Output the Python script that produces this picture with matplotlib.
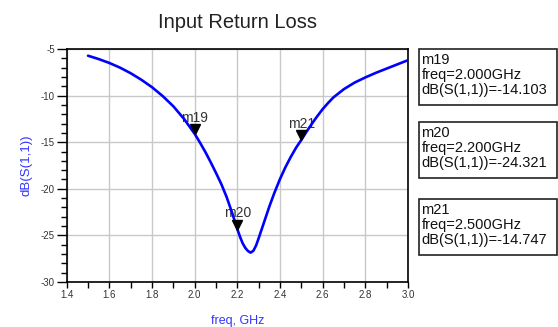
import matplotlib
matplotlib.use("Agg")
import matplotlib.pyplot as plt
from matplotlib.patches import Rectangle
from matplotlib.transforms import offset_copy

plt.rcParams['font.family'] = ['Liberation Sans', 'DejaVu Sans']

# S11 sweep (GHz, dB)
freq_ghz = [1.50, 1.55, 1.60, 1.65, 1.70, 1.75, 1.80, 1.85, 1.90, 1.95,
            2.00, 2.025, 2.05, 2.075, 2.10, 2.125, 2.15, 2.175, 2.20, 2.2125,
            2.225, 2.2375, 2.25, 2.262, 2.275, 2.2875, 2.30, 2.3125, 2.325, 2.35,
            2.375, 2.40, 2.425, 2.45, 2.475, 2.50, 2.525, 2.55, 2.575, 2.60,
            2.625, 2.65, 2.70, 2.75, 2.80, 2.85, 2.90, 2.95, 3.00]
s11_db = [-5.72, -6.08, -6.5, -7.0, -7.6, -8.3, -9.1, -10.05, -11.15, -12.5,
          -14.103, -15.05, -16.05, -17.15, -18.3, -19.5, -20.9, -22.55, -24.321, -25.15,
          -25.85, -26.35, -26.68, -26.85, -26.65, -26.1, -25.3, -24.45, -23.6, -21.9,
          -20.35, -18.95, -17.7, -16.6, -15.6, -14.747, -13.85, -13.0, -12.2, -11.45,
          -10.8, -10.2, -9.3, -8.6, -8.05, -7.55, -7.1, -6.65, -6.2]

# Markers
marker_names = ["m19", "m20", "m21"]
marker_freq = [2.000, 2.200, 2.500]
marker_db = [-14.103, -24.321, -14.747]

x_ticks = [1.4, 1.6, 1.8, 2.0, 2.2, 2.4, 2.6, 2.8, 3.0]
y_ticks = [-30, -25, -20, -15, -10, -5]

W, H = 558, 327
fig = plt.figure(figsize=(W / 100, H / 100), dpi=100)


def fx(px):
    return px / W


def fy(py):
    return 1 - py / H


ax_l, ax_r, ax_t, ax_b = 66.7, 408.0, 49.0, 282.0
ax = fig.add_axes([fx(ax_l), fy(ax_b), fx(ax_r) - fx(ax_l), fy(ax_t) - fy(ax_b)])

ax.plot(freq_ghz, s11_db, color='#0000ff', lw=1.9, solid_capstyle='round',
        solid_joinstyle='round', zorder=3)

ax.set_xlim(1.4, 3.0)
ax.set_ylim(-30, -5)
ax.set_xticks(x_ticks)
ax.set_xticklabels([f"{v:.1f}" for v in x_ticks])
ax.set_yticks(y_ticks)
ax.set_yticklabels([str(v) for v in y_ticks])
ax.set_xticks([1.4 + 0.1 * i for i in range(17)], minor=True)
ax.set_yticks(list(range(-30, -4)), minor=True)

ax.grid(True, which='major', color='#c8c8c8', lw=1.0, zorder=0)
for s in ax.spines.values():
    s.set_color('black')
    s.set_linewidth(1.2)
ax.tick_params(axis='both', which='both', direction='out', color='black', width=1.0,
               labelsize=7, labelcolor='#333333', pad=1.5)
ax.tick_params(axis='y', which='major', length=7)
ax.tick_params(axis='y', which='minor', length=4)
ax.tick_params(axis='x', which='both', length=4)

ax.set_ylabel("dB(S(1,1))", color='#3333ff', fontsize=9.5, labelpad=6)
ax.set_xlabel("freq, GHz", color='#3333ff', fontsize=9, labelpad=11)
ax.set_title("Input Return Loss", fontsize=14.5, color='#222222', pad=15)

# Marker triangles with their tips on the trace, names above
tri = offset_copy(ax.transData, fig=fig, x=0, y=4.5, units='dots')
lab = offset_copy(ax.transData, fig=fig, x=0, y=16, units='dots')
for name, f, d in zip(marker_names, marker_freq, marker_db):
    ax.plot([f], [d], marker='v', color='black', ms=7, transform=tri, zorder=4,
            clip_on=False)
    ax.text(f, d, name, transform=lab, ha='center', va='center', fontsize=10,
            color='#333333', zorder=2)

# Marker readout boxes
box_tops = [49.0, 121.7, 199.0]
box_h = 56.0
box_x0, box_x1 = 419.0, 556.5
for name, f, d, top in zip(marker_names, marker_freq, marker_db, box_tops):
    fig.patches.append(Rectangle((fx(box_x0), fy(top + box_h)), fx(box_x1) - fx(box_x0),
                                 fy(top) - fy(top + box_h), transform=fig.transFigure,
                                 fill=False, edgecolor='#222222', lw=1.2))
    lines = [name, f"freq={f:.3f}GHz", f"dB(S(1,1))={d:.3f}"]
    for i, line in enumerate(lines):
        fig.text(fx(421.5), fy(top + 11 + 15 * i), line, ha='left', va='center',
                 fontsize=10.5, color='#111111')

fig.savefig("out.png", dpi=100)
